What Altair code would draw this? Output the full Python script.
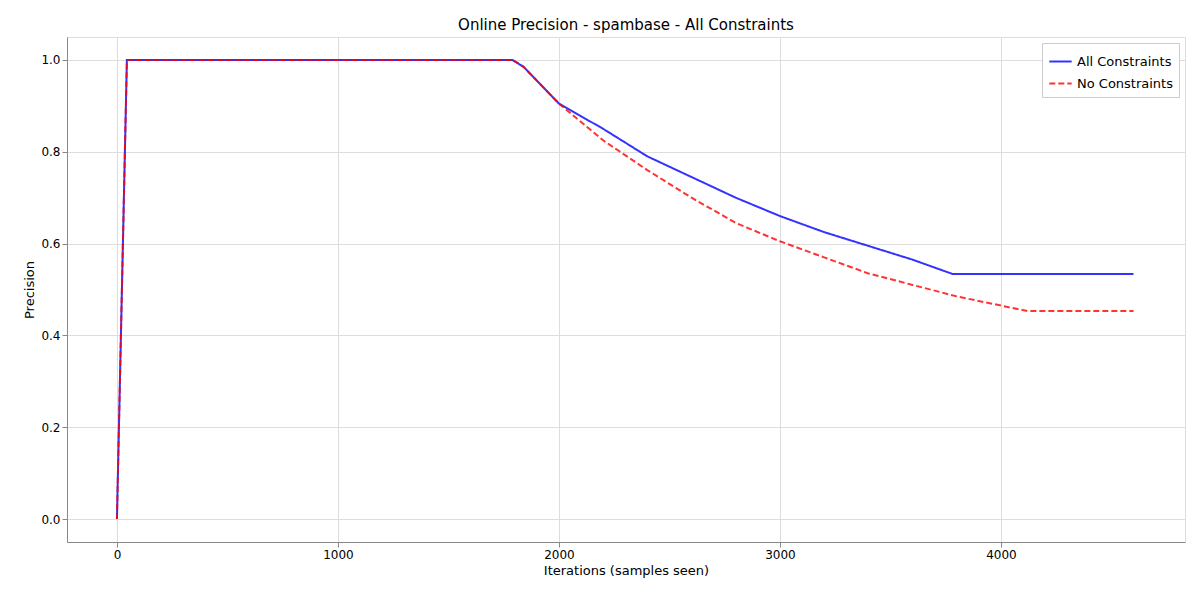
import pandas as pd
import altair as alt

x_all = [0, 45, 1790, 1840, 2000, 2200, 2400, 2600, 2800, 3000, 3200, 3400, 3600, 3780, 4600]
y_all = [0.0, 1.0, 1.0, 0.985, 0.905, 0.85, 0.79, 0.745, 0.70, 0.66, 0.625, 0.595, 0.565, 0.534, 0.534]

x_none = [0, 45, 1790, 1840, 2000, 2200, 2400, 2600, 2800, 3000, 3200, 3400, 3600, 3800, 4000, 4120, 4600]
y_none = [0.0, 1.0, 1.0, 0.985, 0.905, 0.825, 0.76, 0.70, 0.645, 0.605, 0.57, 0.535, 0.51, 0.485, 0.465, 0.453, 0.453]

df = pd.concat([
    pd.DataFrame({"x": x_all, "y": y_all, "s": "All Constraints"}),
    pd.DataFrame({"x": x_none, "y": y_none, "s": "No Constraints"}),
])

series = ["All Constraints", "No Constraints"]

chart = alt.Chart(df).mark_line(strokeWidth=2, opacity=0.8).encode(
    x=alt.X("x:Q", title="Iterations (samples seen)",
            scale=alt.Scale(domain=[-226, 4833], nice=False, zero=False),
            axis=alt.Axis(values=[0, 1000, 2000, 3000, 4000], format="d",
                          titleFontWeight="normal", titleFontSize=13, labelFontSize=12)),
    y=alt.Y("y:Q", title="Precision",
            scale=alt.Scale(domain=[-0.05, 1.05], nice=False),
            axis=alt.Axis(values=[0, 0.2, 0.4, 0.6, 0.8, 1.0], format=".1f",
                          titleFontWeight="normal", titleFontSize=13, labelFontSize=12)),
    color=alt.Color("s:N", scale=alt.Scale(domain=series, range=["#0000ff", "#ff0000"]),
                    legend=alt.Legend(title=None, orient="top-right", symbolType="stroke",
                                      strokeColor="#cccccc", fillColor="white", padding=6,
                                      labelFontSize=13, symbolStrokeWidth=2, symbolSize=500,
                                      offset=6)),
    strokeDash=alt.StrokeDash("s:N", scale=alt.Scale(domain=series, range=[[1, 0], [6, 3]]), legend=None),
    order="x:Q",
).properties(
    width=1118, height=505,
    title=alt.Title("Online Precision - spambase - All Constraints", fontSize=15, fontWeight="normal"),
    autosize="none",
    padding={"left": 59, "top": 29, "right": 7, "bottom": 50},
).configure_axis(
    gridColor="#e6e6e6", domainColor="black", tickColor="black", labelColor="black",
).configure_view(stroke="black").configure(font="DejaVu Sans")

chart.save("out.html", embed_options={"renderer": "svg", "actions": False})
